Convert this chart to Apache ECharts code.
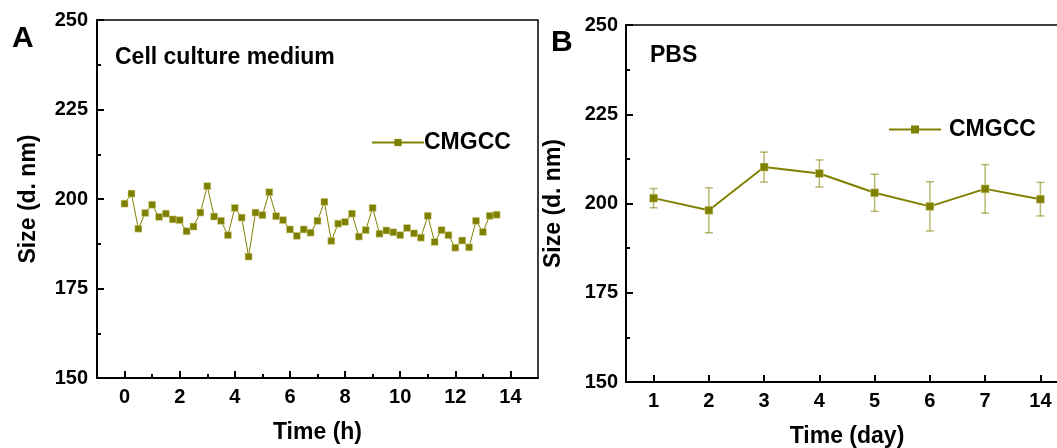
<!DOCTYPE html>
<html>
<head>
<meta charset="utf-8">
<script src="https://cdn.jsdelivr.net/npm/echarts@6/dist/echarts.min.js"></script>
<style>
html,body{margin:0;padding:0;background:#fff;}
#chart{width:1057px;height:448px;}
</style>
</head>
<body>
<div id="chart"></div>
<script>
// ---- Data ----
const timesA = [0,0.25,0.5,0.75,1,1.25,1.5,1.75,2,2.25,2.5,2.75,3,3.25,3.5,3.75,4,4.25,4.5,4.75,5,5.25,5.5,5.75,6,6.25,6.5,6.75,7,7.25,7.5,7.75,8,8.25,8.5,8.75,9,9.25,9.5,9.75,10,10.25,10.5,10.75,11,11.25,11.5,11.75,12,12.25,12.5,12.75,13,13.25,13.5];
const sizesA = [198.7,201.5,191.7,196.1,198.4,195.0,195.9,194.3,194.1,191.0,
                192.3,196.2,203.6,195.1,193.9,189.9,197.5,194.8,183.9,196.2,
                195.5,201.9,195.2,194.1,191.5,189.7,191.5,190.6,193.9,199.2,
                188.3,193.1,193.6,195.9,189.5,191.3,197.5,190.3,191.2,190.7,
                189.9,191.9,190.4,189.2,195.3,188.0,191.3,189.9,186.4,188.4,
                186.5,193.9,190.8,195.3,195.6];
const majorTicksA = [0,2,4,6,8,10,12,14];
const minorTicksA = [1,3,5,7,9,11,13];
const daysB = ['1','2','3','4','5','6','7','14'];
const sizesB = [201.5,198.1,210.2,208.4,203.0,199.2,204.1,201.2];
const errB = [2.7,6.3,4.2,3.8,5.2,6.9,6.8,4.7];

const seriesName = 'CMGCC';
const olive = '#808000';
const FONT = "'Liberation Sans', Arial, sans-serif";

const chart = echarts.init(document.getElementById('chart'), null, {renderer:'canvas'});

const lineA = timesA.map((t,i)=>[t, sizesA[i]]);
const errData = daysB.map((d,i)=>[i, sizesB[i]-errB[i], sizesB[i]+errB[i]]);

const axisLine = {show:true, onZero:false, lineStyle:{color:'#000', width:2}};
const tickLabel = {color:'#000', fontSize:20, fontWeight:'bold', fontFamily:FONT};
const nameStyle = {color:'#000', fontSize:23, fontWeight:'bold', fontFamily:FONT};
const majorTickStyle = {color:'#000', width:2};

const option = {
  animation:false,
  backgroundColor:'#fff',
  grid:[
    {left:97, top:20, width:441, height:358, show:true, borderColor:'#000', borderWidth:1.5, containLabel:false, outerBoundsMode:'none'},
    {left:626, top:25, width:442, height:357, show:true, borderColor:'#000', borderWidth:1.5, containLabel:false, outerBoundsMode:'none'}
  ],
  xAxis:[
    {type:'value', gridIndex:0, min:-1, max:15, position:'bottom',
     axisLine:axisLine, splitLine:{show:false},
     axisTick:{show:true, inside:true, length:7, customValues:majorTicksA, lineStyle:majorTickStyle},
     axisLabel:Object.assign({customValues:majorTicksA, margin:9}, tickLabel),
     name:'Time (h)', nameLocation:'middle', nameGap:43, nameTextStyle:nameStyle},
    {type:'value', gridIndex:0, min:-1, max:15, position:'bottom', offset:0,
     axisLine:{show:false, onZero:false}, splitLine:{show:false},
     axisTick:{show:true, inside:true, length:4, customValues:minorTicksA, lineStyle:majorTickStyle},
     axisLabel:{show:false}},
    {type:'category', gridIndex:1, data:daysB, boundaryGap:true, position:'bottom',
     axisLine:axisLine, splitLine:{show:false},
     axisTick:{show:true, inside:true, alignWithLabel:true, length:7, lineStyle:majorTickStyle},
     axisLabel:Object.assign({margin:9}, tickLabel),
     name:'Time (day)', nameLocation:'middle', nameGap:43, nameTextStyle:nameStyle}
  ],
  yAxis:[
    {type:'value', gridIndex:0, min:150, max:250, interval:25, position:'left',
     axisLine:axisLine, splitLine:{show:false},
     axisTick:{show:true, inside:true, length:7, lineStyle:majorTickStyle},
     minorTick:{show:true, splitNumber:2, length:4, lineStyle:majorTickStyle},
     axisLabel:Object.assign({margin:9}, tickLabel),
     name:'Size (d. nm)', nameLocation:'middle', nameGap:57, nameTextStyle:nameStyle},
    {type:'value', gridIndex:1, min:150, max:250, interval:25, position:'left',
     axisLine:axisLine, splitLine:{show:false},
     axisTick:{show:true, inside:true, length:7, lineStyle:majorTickStyle},
     minorTick:{show:true, splitNumber:2, length:4, lineStyle:majorTickStyle},
     axisLabel:Object.assign({margin:8}, tickLabel),
     name:'Size (d. nm)', nameLocation:'middle', nameGap:61, nameTextStyle:nameStyle}
  ],
  legend:[
    {left:371, top:131, padding:0, itemWidth:52, itemHeight:9, itemGap:0,
     data:[seriesName], seriesIndex:[0],
     itemStyle:{borderWidth:0},
     textStyle:{color:'#000', fontSize:23, fontWeight:'bold', fontFamily:FONT, padding:[0,0,0,-5]}},
    {left:888, top:118, padding:0, itemWidth:52, itemHeight:10, itemGap:0,
     data:[seriesName],
     itemStyle:{borderWidth:0},
     textStyle:{color:'#000', fontSize:23, fontWeight:'bold', fontFamily:FONT, padding:[0,0,0,3]}}
  ],
  graphic:[
    {type:'text', left:12, top:24, style:{text:'A', fill:'#000', font:"bold 30px "+FONT}},
    {type:'text', left:551, top:28, style:{text:'B', fill:'#000', font:"bold 30px "+FONT}},
    {type:'text', left:115, top:46, style:{text:'Cell culture medium', fill:'#000', font:"bold 23px "+FONT}},
    {type:'text', left:650, top:44, style:{text:'PBS', fill:'#000', font:"bold 23px "+FONT}}
  ],
  series:[
    {name:seriesName, type:'line', xAxisIndex:0, yAxisIndex:0, data:lineA,
     symbol:'rect', symbolSize:7,
     itemStyle:{color:olive, borderColor:'#d8d8a0', borderWidth:0.5},
     lineStyle:{color:olive, width:1}},
    {name:'errB', type:'custom', xAxisIndex:2, yAxisIndex:1, data:errData,
     renderItem:function(params, api){
       const x = api.value(0);
       const lo = api.coord([x, api.value(1)]);
       const hi = api.coord([x, api.value(2)]);
       const w = 4;
       const st = {stroke:'rgba(128,128,0,0.55)', lineWidth:1.5};
       return {type:'group', children:[
         {type:'line', shape:{x1:lo[0], y1:lo[1], x2:hi[0], y2:hi[1]}, style:st},
         {type:'line', shape:{x1:lo[0]-w, y1:lo[1], x2:lo[0]+w, y2:lo[1]}, style:st},
         {type:'line', shape:{x1:hi[0]-w, y1:hi[1], x2:hi[0]+w, y2:hi[1]}, style:st}
       ]};
     }, z:1},
    {name:seriesName, type:'line', xAxisIndex:2, yAxisIndex:1, data:sizesB,
     symbol:'rect', symbolSize:8,
     itemStyle:{color:olive, borderColor:'#d8d8a0', borderWidth:0.5},
     lineStyle:{color:olive, width:2}, z:3}
  ]
};
chart.setOption(option);
</script>
</body>
</html>
